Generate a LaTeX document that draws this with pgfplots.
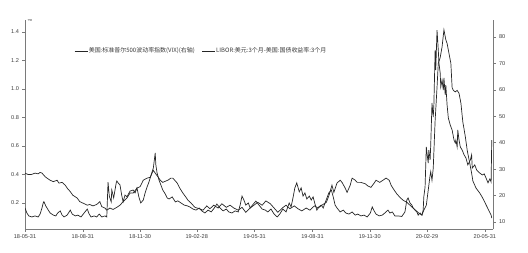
\documentclass[border=0pt]{standalone}
\usepackage{fontspec}
\setmainfont{Liberation Sans}
\newfontfamily\cjk{Noto Sans CJK SC}
\usepackage{pgfplots}
\pgfplotsset{compat=1.18}
\definecolor{lc}{HTML}{262626}
\definecolor{ax}{HTML}{7A7A7A}
\definecolor{tx}{HTML}{3C3C3C}
\pgfplotsset{
  base/.style={
    scale only axis, width=468bp, height=209bp,
    xmin=0, xmax=744,
    tick align=outside,
    major tick length=2.5bp, minor tick length=1.5bp,
    every tick/.style={ax, line width=0.4bp},
    axis line style={-, ax, line width=0.6bp},
    tick label style={font=\fontsize{5.6}{6}\selectfont, text=tx},
    /pgf/number format/assume math mode=true,
  },
  ser/.style={lc, line width=0.7bp},
}
\begin{document}
\begin{tikzpicture}
\path[use as bounding box] (-25bp,-24bp) rectangle (503bp,229bp);
\begin{axis}[base,
  axis x line*=bottom, axis y line*=left,
  ymin=0.018, ymax=1.484,
  ytick={0.2,0.4,0.6,0.8,1.0,1.2,1.4},
  yticklabel style={/pgf/number format/.cd, fixed, fixed zerofill, precision=1},
  xtick={0,92,183,273,365,457,548,639,731},
  xticklabels={18-05-31,18-08-31,18-11-30,19-02-28,19-05-31,19-08-31,19-11-30,20-02-29,20-05-31},
  minor x tick num=2,
  legend columns=2,
  legend style={at={(rel axis cs:0.105,0.852)}, anchor=west, draw=none, fill=none,
    font=\cjk\fontsize{6}{7}\selectfont, text=tx, inner sep=0pt,
    /tikz/every even column/.append style={column sep=6bp},
    nodes={inner sep=0.8bp}},
  legend image code/.code={\draw[#1] (0bp,0bp) -- (13bp,0bp);},
]
\node[anchor=west, font=\fontsize{5}{6}\selectfont, text=tx, inner sep=0.5bp] at (rel axis cs:0.004,1.0) {\%};
\addlegendimage{ser}
\addlegendentry{美国:标准普尔500波动率指数(VIX)(右轴)}
\addplot[ser] coordinates {
(0,0.41)(5,0.40)(10,0.40)(13,0.405)(16,0.41)(21,0.405)(24,0.415)(27,0.41)(32,0.385)(35,0.375)(40,0.36)(45,0.35)(51,0.36)(54,0.34)(59,0.345)(64,0.325)(67,0.305)(72,0.28)(76,0.255)(83,0.235)(87,0.21)(92,0.20)(99,0.185)(103,0.19)(108,0.18)(114,0.19)(119,0.21)(122,0.175)(127,0.165)(130,0.15)(135,0.165)(140,0.155)(146,0.17)(151,0.185)(156,0.21)(162,0.235)(167,0.27)(172,0.27)(178,0.305)(183,0.315)(188,0.36)(194,0.375)(199,0.38)(204,0.43)(207,0.41)(212,0.38)(215,0.36)(219,0.345)(224,0.355)(227,0.36)(232,0.375)(235,0.375)(239,0.355)(242,0.34)(246,0.305)(251,0.27)(256,0.24)(259,0.22)(264,0.20)(270,0.17)(277,0.16)(283,0.15)(289,0.18)(294,0.16)(300,0.185)(307,0.165)(313,0.195)(320,0.17)(326,0.185)(332,0.165)(339,0.15)(345,0.17)(351,0.135)(358,0.165)(364,0.185)(370,0.205)(377,0.185)(383,0.215)(390,0.195)(396,0.165)(402,0.135)(409,0.165)(415,0.185)(421,0.16)(428,0.18)(434,0.16)(440,0.145)(447,0.165)(453,0.15)(460,0.18)(466,0.165)(472,0.185)(479,0.205)(483,0.25)(488,0.325)(491,0.275)(496,0.34)(501,0.36)(504,0.345)(509,0.305)(512,0.275)(517,0.325)(520,0.375)(525,0.36)(528,0.345)(534,0.345)(541,0.335)(545,0.32)(550,0.31)(555,0.34)(558,0.36)(564,0.345)(569,0.36)(574,0.375)(579,0.36)(582,0.325)(587,0.29)(591,0.265)(596,0.24)(601,0.22)(607,0.205)(612,0.185)(617,0.165)(622,0.145)(626,0.13)(631,0.115)(634,0.15)(638,0.185)(641,0.29)(644,0.395)(645,0.42)(647,0.36)(649,0.445)(652,0.78)(655,1.01)(657,1.18)(660,1.22)(663,1.295)(666,1.415)(669,1.345)(671,1.32)(674,1.25)(677,1.18)(679,1.01)(681,0.99)(684,0.98)(687,0.99)(690,0.97)(693,0.90)(696,0.77)(700,0.665)(703,0.57)(707,0.48)(710,0.41)(712,0.355)(717,0.305)(723,0.27)(727,0.24)(731,0.205)(736,0.16)(741,0.115)(742,0.095)
};
\addlegendentry{LIBOR:美元:3个月-美国:国债收益率:3个月}
\end{axis}
\begin{axis}[base,
  axis x line=none, axis y line*=right,
  ymin=7.35, ymax=86.4,
  ytick={10,20,30,40,50,60,70,80},
]
\addplot[ser] coordinates {
(0,15.3)(3,13.4)(6,12.3)(11,11.9)(16,12.3)(21,11.9)(24,13.0)(27,15.3)(29,17.2)(30,17.7)(33,16.1)(37,14.5)(40,13.4)(45,12.6)(49,12.3)(52,13.4)(56,14.2)(59,12.6)(62,11.9)(67,12.6)(72,14.5)(75,13.0)(80,12.3)(84,12.6)(89,11.9)(94,13.4)(99,14.9)(102,13.0)(105,11.9)(110,12.3)(114,11.9)(118,13.0)(122,11.9)(127,12.3)(130,11.9)(132,25.1)(134,19.8)(137,17.6)(138,22.1)(141,19.1)(145,24.8)(146,25.5)(148,24.8)(151,24.0)(154,19.8)(156,17.6)(159,20.2)(162,19.5)(167,21.7)(172,22.1)(175,21.0)(178,22.9)(181,19.5)(184,17.2)(188,18.3)(191,21.0)(194,23.2)(197,25.1)(200,27.4)(204,30.4)(207,36.1)(208,31.6)(210,28.5)(213,25.9)(216,24.0)(219,22.1)(223,20.6)(226,19.1)(229,18.7)(234,19.5)(239,17.6)(243,18.0)(248,17.2)(253,16.4)(258,16.1)(262,15.7)(267,14.9)(272,14.5)(277,15.3)(281,14.2)(286,13.4)(291,14.5)(296,13.8)(301,15.3)(305,16.8)(310,15.3)(315,14.2)(320,14.9)(324,13.8)(329,13.4)(334,14.2)(339,13.8)(342,16.4)(345,19.8)(348,18.3)(351,16.4)(355,17.2)(358,15.3)(363,16.8)(367,17.9)(372,16.4)(377,14.9)(382,14.5)(386,13.8)(391,14.9)(396,13.0)(401,11.9)(405,13.0)(410,14.9)(415,13.8)(420,17.2)(423,15.7)(426,19.1)(429,22.9)(432,24.8)(436,21.4)(439,22.9)(442,19.8)(445,21.0)(448,18.7)(452,19.8)(455,18.3)(458,19.5)(461,16.8)(464,14.5)(467,15.7)(471,16.4)(474,15.3)(477,17.2)(480,19.1)(483,21.0)(487,22.1)(490,19.5)(493,16.4)(496,15.3)(501,13.8)(506,14.5)(510,13.4)(515,13.0)(520,13.8)(525,12.6)(529,13.0)(534,12.3)(539,12.6)(544,11.9)(549,13.4)(552,15.7)(555,14.2)(558,13.0)(563,12.3)(568,12.6)(572,13.4)(577,14.5)(580,13.4)(584,13.8)(588,12.3)(593,12.3)(599,12.1)(604,13.8)(607,18.3)(609,19.1)(612,17.2)(615,16.4)(617,15.3)(620,14.5)(623,13.8)(625,12.6)(628,13.4)(631,12.6)(633,14.5)(634,19.5)(636,23.2)(638,38.4)(639,36.1)(641,32.3)(642,37.2)(644,33.5)(645,39.1)(647,55.0)(649,49.7)(650,54.3)(652,75.1)(653,67.5)(655,82.6)(657,75.1)(658,70.2)(660,66.4)(661,61.1)(663,63.7)(665,59.9)(666,64.5)(668,58.1)(669,61.8)(671,54.3)(673,49.3)(676,46.7)(679,44.8)(682,41.0)(684,39.9)(685,41.0)(687,38.4)(688,44.8)(690,41.0)(692,38.4)(695,37.2)(698,35.4)(701,34.2)(704,31.6)(708,33.5)(710,35.4)(711,30.4)(715,31.6)(718,29.7)(721,28.9)(723,28.5)(727,27.8)(730,28.2)(733,26.6)(736,24.8)(739,26.3)(741,25.1)(742,41.0)
};
\end{axis}
\end{tikzpicture}
\end{document}
